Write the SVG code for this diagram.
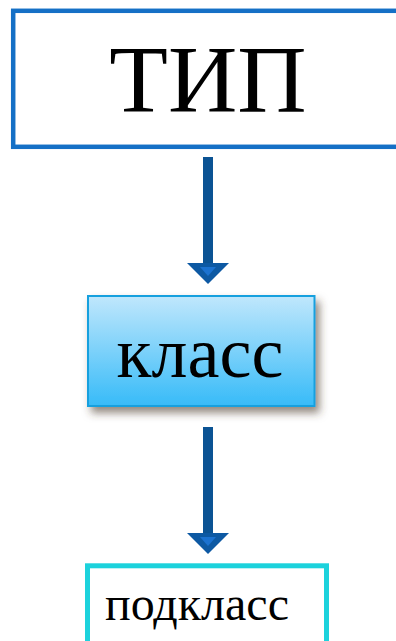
<svg xmlns="http://www.w3.org/2000/svg" width="396" height="641" viewBox="0 0 396 641">
<style>
.shaft{fill:#0b5394}
.head{fill:#0d59a3}
.inner{fill:#1b72d0}
.lbl{font-family:"Liberation Serif","Times New Roman",serif;fill:#000}
</style>
<defs>
<linearGradient id="g" x1="0" y1="0" x2="0" y2="1">
<stop offset="0" stop-color="#c0e7fc"/>
<stop offset="1" stop-color="#37bbf8"/>
</linearGradient>
<filter id="sh" x="-10%" y="-10%" width="130%" height="140%">
<feGaussianBlur in="SourceAlpha" stdDeviation="4"/>
<feOffset dx="4" dy="6" result="b"/>
<feFlood flood-color="#4a3a2a" flood-opacity="0.6"/>
<feComposite in2="b" operator="in"/>
<feMerge><feMergeNode/><feMergeNode in="SourceGraphic"/></feMerge>
</filter>
</defs>
<g id="connectors">
<g>
<rect class="shaft" x="203" y="157" width="10" height="108"/>
<polygon class="head" points="187,263 229,263 208,284"/>
<polygon class="inner" points="200,267 216,267 208,276"/>
</g>
<g>
<rect class="shaft" x="203" y="427" width="10" height="108"/>
<polygon class="head" points="187,533 229,533 208,554"/>
<polygon class="inner" points="200,537 216,537 208,546"/>
</g>
</g>
<g id="tip">
<rect x="13.2" y="10.8" width="400" height="136" fill="#fff" stroke="#1570c6" stroke-width="4.5"/>
<text class="lbl" x="208" y="112" font-size="96" text-anchor="middle">ТИП</text>
</g>
<g id="klass">
<rect x="88" y="296" width="226.5" height="110" fill="url(#g)" stroke="#14a0de" stroke-width="2" filter="url(#sh)"/>
<text class="lbl" x="200" y="377" font-size="72" text-anchor="middle">класс</text>
</g>
<g id="podklass">
<rect x="87.5" y="565.8" width="239" height="100" fill="#fff" stroke="#1cd2dc" stroke-width="5"/>
<text class="lbl" x="197" y="620" font-size="48" text-anchor="middle">подкласс</text>
</g>
</svg>
